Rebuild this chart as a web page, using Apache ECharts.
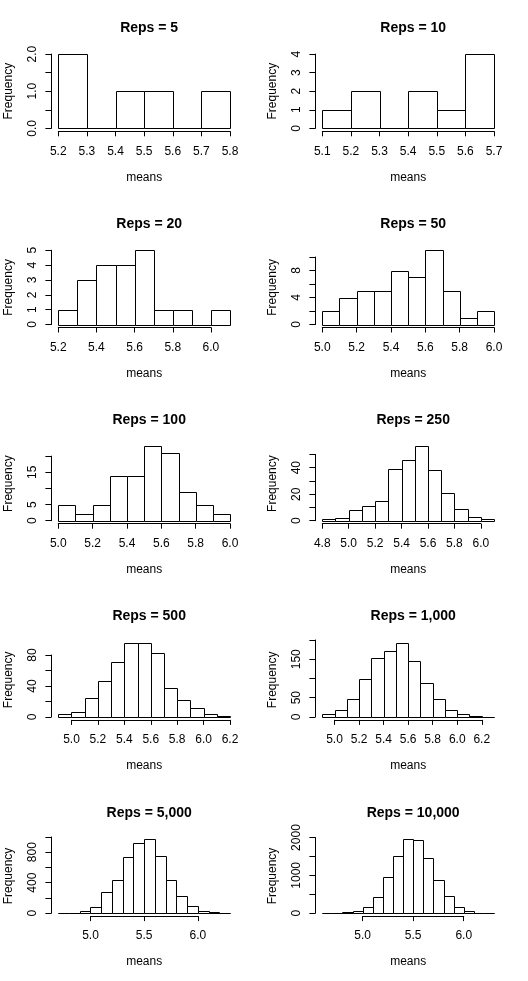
<!DOCTYPE html>
<html>
<head>
<meta charset="utf-8">
<title>Reps histograms</title>
<script src="https://cdn.jsdelivr.net/npm/echarts@6/dist/echarts.min.js"></script>
<style>
	html, body { margin: 0; padding: 0; background: #fff; }
	#chart { width: 528px; height: 981px; }
</style>
</head>
<body>
<div id="chart"></div>
<script>
	// panel titles and histogram breaks
	var panelTitles = ['Reps = 5', 'Reps = 10', 'Reps = 20', 'Reps = 50', 'Reps = 100',
		'Reps = 250', 'Reps = 500', 'Reps = 1,000', 'Reps = 5,000', 'Reps = 10,000'];
	var breakStarts = [5.2, 5.1, 5.2, 5.0, 5.0, 4.8, 4.9, 4.9, 4.7, 4.6];
	var binWidth = 0.1;

	// counts per bin
	var counts5 = [2, 0, 1, 1, 0, 1];
	var counts10 = [1, 2, 0, 2, 1, 4];
	var counts20 = [1, 3, 4, 4, 5, 1, 1, 0, 1];
	var counts50 = [2, 4, 5, 5, 8, 7, 11, 5, 1, 2];
	var counts100 = [5, 2, 5, 14, 14, 23, 21, 9, 5, 2];
	var counts250 = [1, 2, 8, 11, 15, 39, 46, 56, 38, 21, 9, 3, 1];
	var counts500 = [4, 6, 24, 46, 71, 95, 96, 83, 37, 22, 11, 4, 1];
	var counts1000 = [8, 18, 47, 98, 153, 172, 193, 145, 89, 47, 18, 8, 3, 1];
	var counts5000 = [1, 3, 25, 80, 271, 435, 740, 925, 975, 755, 435, 227, 93, 27, 15, 2];
	var counts10000 = [0, 2, 25, 60, 160, 425, 955, 1513, 1965, 1938, 1460, 876, 451, 160, 53, 5, 1];
	var panelCounts = [counts5, counts10, counts20, counts50, counts100,
		counts250, counts500, counts1000, counts5000, counts10000];

	// x axis ticks
	var xTicksA = [5.2, 5.3, 5.4, 5.5, 5.6, 5.7, 5.8];
	var xTicksB = [5.1, 5.2, 5.3, 5.4, 5.5, 5.6, 5.7];
	var xTicksC = [5.2, 5.4, 5.6, 5.8, 6.0];
	var xTicksD = [5.0, 5.2, 5.4, 5.6, 5.8, 6.0];
	var xTicksE = [4.8, 5.0, 5.2, 5.4, 5.6, 5.8, 6.0];
	var xTicksF = [5.0, 5.2, 5.4, 5.6, 5.8, 6.0, 6.2];
	var xTicksG = [5.0, 5.5, 6.0];
	var panelXTicks = [xTicksA, xTicksB, xTicksC, xTicksD, xTicksD, xTicksE, xTicksF, xTicksF, xTicksG, xTicksG];

	// y axis ticks and the labels R kept
	var panelYTicks = [
		[0, 0.5, 1, 1.5, 2],
		[0, 1, 2, 3, 4],
		[0, 1, 2, 3, 4, 5],
		[0, 2, 4, 6, 8, 10],
		[0, 5, 10, 15, 20],
		[0, 10, 20, 30, 40, 50],
		[0, 20, 40, 60, 80],
		[0, 50, 100, 150, 200],
		[0, 200, 400, 600, 800, 1000],
		[0, 500, 1000, 1500, 2000]
	];
	var panelYLabels = [
		['0.0', '', '1.0', '', '2.0'],
		['0', '1', '2', '3', '4'],
		['0', '1', '2', '3', '4', '5'],
		['0', '', '4', '', '8', ''],
		['0', '5', '', '15', ''],
		['0', '', '20', '', '40', ''],
		['0', '', '40', '', '80'],
		['0', '50', '', '150', ''],
		['0', '', '400', '', '800', ''],
		['0', '', '1000', '', '2000']
	];

	//布局常量
	var PANEL_W = 264, PANEL_H = 196.2;
	var PLOT_L = 51.4, PLOT_T = 51.1, PLOT_W = 185.5, PLOT_H = 80.2;
	var FONT = 'Liberation Sans, Arial, sans-serif';

	var option = {
		backgroundColor: '#fff',
		animation: false,
		title: [], grid: [], xAxis: [], yAxis: [], series: []
	};

	function hiddenAxis () {
		return { type: 'value', show: false, min: 0, max: 1 };
	}

	function buildPanel (i) {
		var px = (i % 2) * PANEL_W;
		var py = Math.floor(i / 2) * PANEL_H;
		var counts = panelCounts[i];
		var lo = breakStarts[i];
		var hi = lo + counts.length * binWidth;
		var xmin = lo - 0.04 * (hi - lo), xmax = hi + 0.04 * (hi - lo);
		var ymaxData = Math.max.apply(null, counts);
		var ymin = -0.04 * ymaxData, ymax = 1.04 * ymaxData;
		var xt = panelXTicks[i], yt = panelYTicks[i], yl = panelYLabels[i];
		var left = px + PLOT_L, top = py + PLOT_T;

		option.title.push({
			text: panelTitles[i],
			left: left + PLOT_W / 2,
			top: py + 16,
			textAlign: 'center',
			textStyle: { fontFamily: FONT, fontSize: 14, fontWeight: 'bold', color: '#000' }
		});

		// grid A: plot region with hidden axes, holds bars and axis names
		option.grid.push({ left: left, top: top, width: PLOT_W, height: PLOT_H });
		option.xAxis.push({
			type: 'value', gridIndex: 3 * i, min: xmin, max: xmax,
			name: 'means', nameLocation: 'middle', nameGap: 40,
			nameTextStyle: { fontFamily: FONT, fontSize: 12, color: '#000' },
			axisLine: { show: false }, axisTick: { show: false },
			axisLabel: { show: false }, splitLine: { show: false }
		});
		option.yAxis.push({
			type: 'value', gridIndex: 3 * i, min: ymin, max: ymax,
			name: 'Frequency', nameLocation: 'middle', nameGap: 37, nameRotate: 90,
			nameTextStyle: { fontFamily: FONT, fontSize: 12, color: '#000' },
			axisLine: { show: false }, axisTick: { show: false },
			axisLabel: { show: false }, splitLine: { show: false }
		});

		// grid B: x axis spanning first to last tick
		var bx0 = left + (xt[0] - xmin) / (xmax - xmin) * PLOT_W;
		var bx1 = left + (xt[xt.length - 1] - xmin) / (xmax - xmin) * PLOT_W;
		option.grid.push({ left: bx0, top: top, width: bx1 - bx0, height: PLOT_H });
		option.xAxis.push({
			type: 'value', gridIndex: 3 * i + 1,
			min: xt[0], max: xt[xt.length - 1], interval: +(xt[1] - xt[0]).toFixed(2),
			axisLine: { show: true, lineStyle: { color: '#000', width: 1 } },
			axisTick: { show: true, inside: false, length: 5, lineStyle: { color: '#000' } },
			axisLabel: {
				margin: 14, color: '#000', fontFamily: FONT, fontSize: 12,
				formatter: function (v) { return v.toFixed(1); }
			},
			splitLine: { show: false }
		});
		option.yAxis.push(Object.assign(hiddenAxis(), { gridIndex: 3 * i + 1 }));

		// grid C: y axis from 0 to last tick
		var cy0 = top + (ymax - yt[yt.length - 1]) / (ymax - ymin) * PLOT_H;
		var cy1 = top + (ymax - 0) / (ymax - ymin) * PLOT_H;
		option.grid.push({ left: left, top: cy0, width: PLOT_W, height: cy1 - cy0 });
		option.xAxis.push(Object.assign(hiddenAxis(), { gridIndex: 3 * i + 2 }));
		option.yAxis.push({
			type: 'value', gridIndex: 3 * i + 2,
			min: 0, max: yt[yt.length - 1], interval: yt[1] - yt[0],
			axisLine: { show: true, lineStyle: { color: '#000', width: 1 } },
			axisTick: { show: true, inside: false, length: 6, lineStyle: { color: '#000' } },
			axisLabel: {
				margin: 13, rotate: 90, color: '#000', fontFamily: FONT, fontSize: 12,
				formatter: function (v) {
					for (var k = 0; k < yt.length; k++) {
						if (Math.abs(yt[k] - v) < 1e-6) return yl[k];
					}
					return '';
				}
			},
			splitLine: { show: false }
		});

		// bars
		var data = counts.map(function (c, k) {
			return [lo + k * binWidth, lo + (k + 1) * binWidth, c];
		});
		option.series.push({
			type: 'custom',
			xAxisIndex: 3 * i, yAxisIndex: 3 * i,
			clip: false,
			data: data,
			renderItem: function (params, api) {
				var p0 = api.coord([api.value(0), 0]);
				var p1 = api.coord([api.value(1), api.value(2)]);
				var x0 = Math.round(p0[0]) + 0.5, x1 = Math.round(p1[0]) + 0.5;
				var y0 = Math.round(p0[1]) + 0.5, y1 = Math.round(p1[1]) + 0.5;
				return {
					type: 'rect',
					shape: { x: x0, y: y1, width: x1 - x0, height: y0 - y1 },
					style: { fill: '#fff', stroke: '#000', lineWidth: 1 }
				};
			}
		});
	}

	for (var i = 0; i < panelTitles.length; i++) {
		buildPanel(i);
	}

	var myChart = echarts.init(document.getElementById('chart'), null, { renderer: 'canvas' });
	myChart.setOption(option);
</script>
</body>
</html>
